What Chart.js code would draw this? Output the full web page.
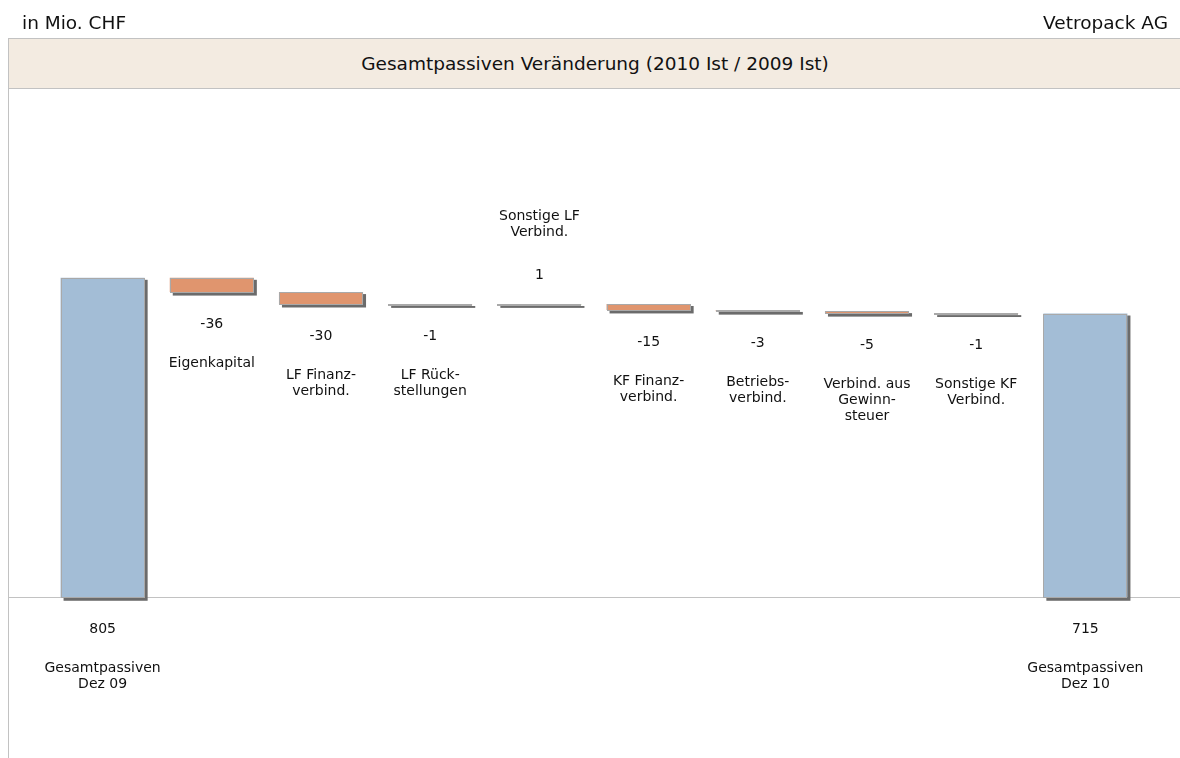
<!DOCTYPE html>
<html>
<head>
<meta charset="utf-8">
<title>Gesamtpassiven Veränderung</title>
<script src="https://cdn.jsdelivr.net/npm/chart.js@4.4.1/dist/chart.umd.min.js"></script>
<style>
  body { margin: 0; background: #fff; font-family: 'DejaVu Sans', sans-serif; color: #111; }
  #wrap { position: relative; width: 1180px; height: 758px; overflow: hidden; }
  #chart { position: absolute; left: 0; top: 0; }
  .hdr { position: absolute; font-size: 18.5px; line-height: 22px; top: 12px; }
  #unit { left: 22px; }
  #company { right: 12px; }
  #titleBox {
    position: absolute; left: 8px; top: 38px; width: 1172px; height: 49px;
    background: #f3ebe1; border-top: 1px solid #c2c2c2; border-bottom: 1px solid #c2c2c2;
    border-left: 1px solid #c2c2c2; text-align: center; line-height: 49px; font-size: 18.5px;
  }
  #leftLine { position: absolute; left: 8px; top: 88px; width: 1px; height: 670px; background: #c2c2c2; }
</style>
</head>
<body>
<div id="wrap">
  <canvas id="chart" width="1180" height="758"></canvas>
  <div class="hdr" id="unit">in Mio. CHF</div>
  <div class="hdr" id="company">Vetropack AG</div>
  <div id="titleBox">Gesamtpassiven Veränderung (2010 Ist / 2009 Ist)</div>
  <div id="leftLine"></div>
</div>
<script>
  /************************************************
   *  DATA
   ************************************************/
  const categories = [
    ["Gesamtpassiven", "Dez 09"],
    ["Eigenkapital"],
    ["LF Finanz-", "verbind."],
    ["LF Rück-", "stellungen"],
    ["Sonstige LF", "Verbind."],
    ["KF Finanz-", "verbind."],
    ["Betriebs-", "verbind."],
    ["Verbind. aus", "Gewinn-", "steuer"],
    ["Sonstige KF", "Verbind."],
    ["Gesamtpassiven", "Dez 10"]
  ];
  const changes = [805, -36, -30, -1, 1, -15, -3, -5, -1, 715];
  const isTotal = [true, false, false, false, false, false, false, false, false, true];

  const totalColor = '#a3bdd6';
  const minusColor = '#e0956e';
  const plusColor = '#9fbf7a';

  // floating bars [from, to] built from running sum
  let running = 0;
  const ranges = changes.map((v, i) => {
    if (isTotal[i]) { running = v; return [0, v]; }
    const from = running;
    running += v;
    return [from, running];
  });
  const colors = changes.map((v, i) => isTotal[i] ? totalColor : (v < 0 ? minusColor : plusColor));

  /************************************************
   *  PLUGIN: baseline, shadows, outlines, labels
   ************************************************/
  const waterfallDecor = {
    id: 'waterfallDecor',
    beforeDatasetsDraw(chart) {
      const ctx = chart.ctx;
      const y0 = Math.round(chart.scales.y.getPixelForValue(0)) + 0.5;
      ctx.save();
      ctx.strokeStyle = '#c2c2c2';
      ctx.lineWidth = 1;
      ctx.beginPath();
      ctx.moveTo(8, y0);
      ctx.lineTo(chart.width, y0);
      ctx.stroke();

      // drop shadows
      ctx.fillStyle = '#6b6b6b';
      chart.getDatasetMeta(0).data.forEach((bar) => {
        const p = bar.getProps(['x', 'y', 'base', 'width'], true);
        const top = Math.min(p.y, p.base), bot = Math.max(p.y, p.base);
        ctx.fillRect(p.x - p.width / 2 + 3, top + 2, p.width, bot - top + 1.5);
      });
      ctx.restore();
    },
    afterDatasetsDraw(chart) {
      const ctx = chart.ctx;
      ctx.save();
      ctx.font = '14px "DejaVu Sans", sans-serif';
      ctx.fillStyle = '#111';
      ctx.textAlign = 'center';
      ctx.textBaseline = 'middle';
      chart.getDatasetMeta(0).data.forEach((bar, i) => {
        const p = bar.getProps(['x', 'y', 'base', 'width'], true);
        const top = Math.min(p.y, p.base), bot = Math.max(p.y, p.base);
        const left = Math.round(p.x - p.width / 2);

        // thin outline
        ctx.strokeStyle = '#a9a9a9';
        ctx.lineWidth = 1;
        const t = Math.round(top), b = Math.max(Math.round(bot), t + 1);
        ctx.strokeRect(left + 0.5, t + 0.5, Math.round(p.width) - 1, b - t);

        const lines = categories[i];
        const valueText = String(changes[i]);
        if (!isTotal[i] && changes[i] > 0) {
          const vy = top - 29;
          ctx.fillText(valueText, p.x, vy);
          const lastY = vy - 43;
          lines.forEach((ln, k) => ctx.fillText(ln, p.x, lastY - (lines.length - 1 - k) * 16));
        } else {
          const vy = bot + 32;
          ctx.fillText(valueText, p.x, vy);
          lines.forEach((ln, k) => ctx.fillText(ln, p.x, vy + 39 + k * 16));
        }
      });
      ctx.restore();
    }
  };

  /************************************************
   *  CHART
   ************************************************/
  new Chart(document.getElementById('chart').getContext('2d'), {
    type: 'bar',
    data: {
      labels: categories.map((c) => c.join(' ')),
      datasets: [{
        data: ranges,
        backgroundColor: colors,
        borderWidth: 0,
        barPercentage: 0.77,
        categoryPercentage: 1
      }]
    },
    options: {
      responsive: false,
      animation: false,
      layout: { padding: { left: 48, right: 40, top: 100, bottom: 0 } },
      plugins: { legend: { display: false }, tooltip: { enabled: false } },
      scales: {
        x: { display: false },
        y: { display: false, min: -405, max: 1253 }
      }
    },
    plugins: [waterfallDecor]
  });
</script>
</body>
</html>
